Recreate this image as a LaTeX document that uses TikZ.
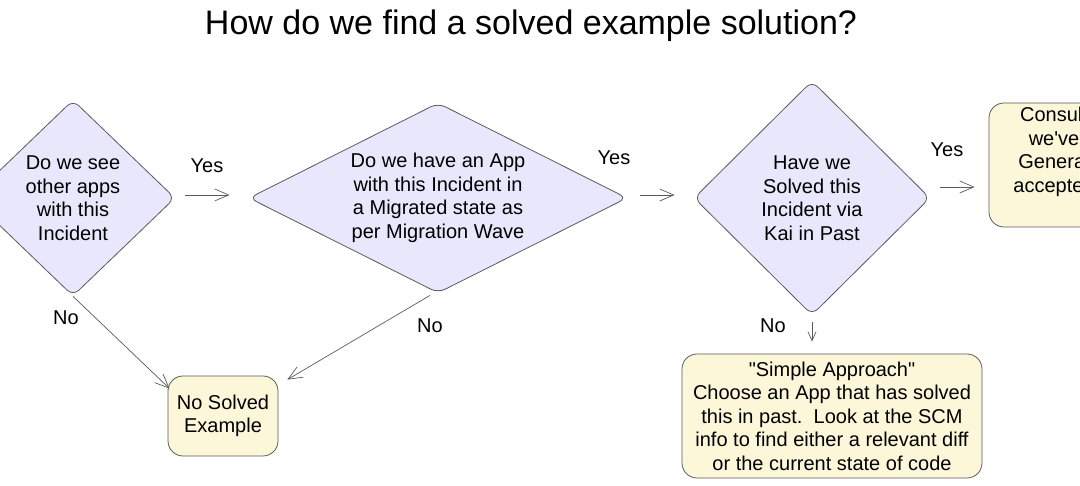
\documentclass[tikz,border=0pt]{standalone}
\usepackage{fontspec}
\setmainfont{Liberation Sans}
\usepackage{tikz}
\usetikzlibrary{shapes.geometric,arrows.meta}
\usetikzlibrary{calc}

\definecolor{lav}{HTML}{E9E7FB}
\definecolor{cream}{HTML}{FDF7D9}
\definecolor{edge}{HTML}{5A5A5A}

\begin{document}
\begin{tikzpicture}[x=1pt,y=1pt]
\tikzstyle{question} = [diamond, draw=edge, fill=lav, line width=0.8pt, rounded corners=8pt, inner sep=0pt, align=center, font=\fontsize{20}{23.5}\selectfont]
\tikzstyle{answer} = [rectangle, draw=edge, fill=cream, line width=0.8pt, rounded corners=15pt, align=center, font=\fontsize{20}{23.5}\selectfont]
\tikzstyle{arr} = [draw=edge, line width=0.7pt, -{Straight Barb[length=14pt,width=12pt]}]
\tikzstyle{lbl} = [font=\fontsize{20}{24}\selectfont]
\useasboundingbox (0,0) rectangle (1080,486);
\clip (0,0) rectangle (1080,486);
\node at (531,460) {\fontsize{34}{40}\selectfont How do we find a solved example solution?};
\node[question, minimum width=204pt, minimum height=196pt](see) at (73,288){Do we see\\other apps\\with this\\Incident};
\node[question, aspect=2, minimum width=378pt, minimum height=190pt](migr) at (438,288){Do we have an App\\with this Incident in\\a Migrated state as\\per Migration Wave};
\node[question, minimum width=236pt, minimum height=234pt](kai) at (812,288){Have we\\Solved this\\Incident via\\Kai in Past};
\node[answer, minimum width=130pt, minimum height=124pt](consult) at (1054,321){Consult\\we\textquotesingle ve\\General\\accepted\\\strut}; %runs off the page edge
\node[answer, minimum width=110pt, minimum height=80pt](nosolved) at (223,70){No Solved\\Example};
\node[answer, minimum width=300pt, minimum height=124pt](simple) at (832,70){\textquotedbl Simple Approach\textquotedbl\\Choose an App that has solved\\this in past.\ \ Look at the SCM\\info to find either a relevant diff\\or the current state of code};
% yes branches
\draw[arr, shorten <=10pt, shorten >=19pt]([yshift=3pt]see.east) -- ([yshift=3pt]migr.west);
\draw[arr, shorten <=13pt, shorten >=19pt]([yshift=3pt]migr.east) -- ([yshift=3pt]kai.west);
\draw[arr]($(kai.east)+(10,11)$) -- ($(consult.west)+(-14,-22)$);
% no branches
\draw[arr](see.south) -- ($(nosolved.north west)+(2,-13)$);
\draw[arr]($(migr.south)+(-8,-2)$) -- ($(nosolved.north east)+(9,-4)$);
\draw[draw=edge, line width=0.7pt, -{Straight Barb[length=9pt,width=8pt]}, shorten <=7pt, shorten >=12pt](kai.south) -- (kai.south |- simple.north);
\node[lbl](y1) at (207,320){Yes};
\node[lbl](y2) at (614,328){Yes};
\node[lbl](y3) at (947,336){Yes};
\node[lbl](n1) at (66,168){No};
\node[lbl](n2) at (430,160){No};
\node[lbl](n3) at (773,160){No};
\end{tikzpicture}
\end{document}
